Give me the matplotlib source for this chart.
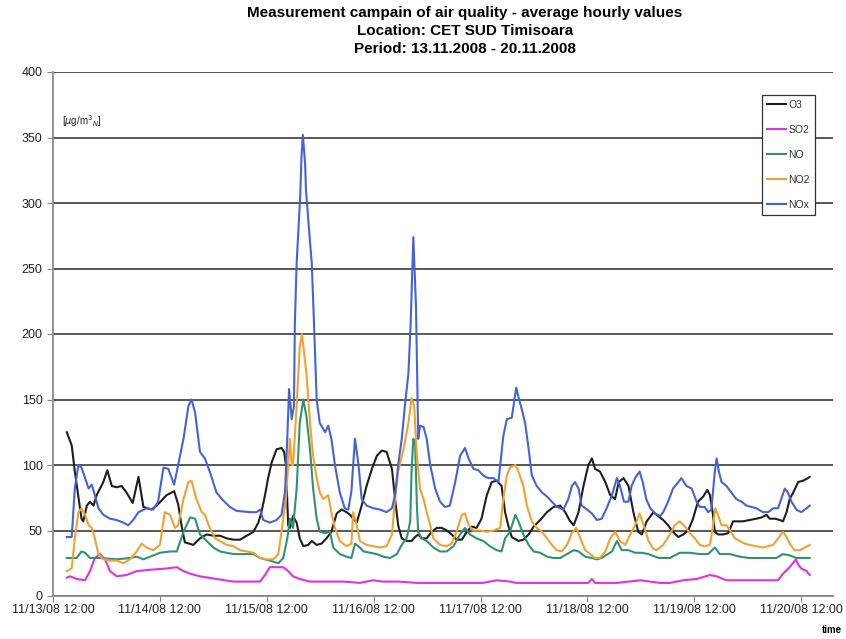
import numpy as np
import matplotlib
matplotlib.use('Agg')
import matplotlib.pyplot as plt

plt.rcParams['font.family'] = ['Liberation Sans', 'DejaVu Sans']

# hours since 11/13/08 12:00, value in ug/m3N
o3 = [(3.1, 125), (4.2, 115), (4.9, 95), (6.4, 59), (6.8, 57), (7.6, 69), (8.3, 72), (9.1, 69),
      (9.8, 77), (11.3, 87), (12.2, 96), (13.2, 84), (14.3, 83), (15.4, 84), (16.5, 79), (17.9, 71),
      (19.2, 91), (20.3, 68), (22.1, 66), (23.3, 69), (25.5, 77), (27.2, 80), (28.1, 70), (28.9, 53),
      (29.6, 41), (31.5, 39), (33.0, 44), (34.5, 47), (36.0, 46), (37.5, 46), (39.0, 44), (40.5, 43),
      (42.0, 43), (43.5, 46), (45.0, 49), (46.1, 56), (46.8, 64), (47.6, 77), (48.3, 90), (49.1, 102),
      (50.2, 112), (51.3, 113), (51.9, 110), (52.3, 100), (52.8, 54), (53.2, 52), (53.9, 61), (54.7, 56),
      (55.4, 44), (56.2, 38), (57.3, 39), (58.1, 42), (59.2, 39), (60.3, 40), (61.4, 44), (62.5, 49),
      (63.7, 63), (64.8, 66), (65.9, 64), (66.7, 62), (67.4, 59), (68.2, 56), (69.3, 69), (70.4, 84),
      (71.6, 97), (72.7, 107), (73.8, 111), (74.9, 110), (76.1, 97), (76.8, 74), (77.5, 54), (78.3, 44),
      (79.4, 42), (80.5, 42), (81.3, 45), (82.0, 47), (82.8, 44), (83.9, 44), (85.0, 49), (86.2, 52),
      (87.3, 52), (88.4, 50), (89.5, 47), (90.6, 43), (91.8, 43), (92.9, 49), (94.0, 53), (95.1, 52),
      (96.2, 59), (97.4, 77), (98.5, 87), (99.6, 88), (100.7, 84), (101.5, 64), (102.2, 54), (103.0, 45),
      (104.5, 42), (105.6, 43), (106.8, 47), (107.9, 53), (109.4, 58), (110.9, 64), (112.4, 68), (113.9, 69),
      (115.0, 64), (116.1, 57), (116.9, 54), (118.0, 64), (119.1, 84), (120.2, 100), (121.0, 105), (121.7, 97),
      (122.8, 95), (124.0, 87), (125.1, 77), (126.2, 74), (127.0, 87), (128.1, 90), (129.2, 84), (130.3, 64),
      (131.4, 49), (132.2, 47), (133.3, 57), (134.8, 64), (135.9, 61), (137.0, 58), (138.1, 54), (139.2, 49),
      (140.4, 45), (141.5, 47), (142.6, 50), (143.7, 59), (144.8, 72), (146.0, 76), (146.9, 81), (147.5, 77),
      (148.1, 64), (148.6, 49), (149.3, 47), (150.5, 47), (151.6, 48), (152.7, 57), (153.8, 57), (154.9, 57),
      (156.4, 58), (157.9, 59), (159.1, 60), (160.2, 62), (160.9, 59), (162.1, 59), (163.2, 58), (163.9, 57),
      (164.7, 64), (165.4, 74), (166.2, 79), (167.3, 87), (168.4, 88), (169.5, 90), (169.9, 91)]

so2 = [(3.1, 14), (3.8, 15), (5.3, 13), (7.2, 12), (8.3, 19), (9.4, 29), (10.5, 32), (11.7, 28),
       (12.8, 19), (14.3, 15), (16.5, 16), (18.8, 19), (21.8, 20), (25.5, 21), (27.8, 22), (29.3, 19),
       (30.8, 17), (33.0, 15), (36.7, 13), (40.5, 11), (44.2, 11), (46.5, 11), (47.6, 16), (48.7, 22),
       (50.2, 22), (51.7, 22), (52.8, 19), (53.9, 15), (55.4, 13), (57.7, 11), (61.4, 11), (65.2, 11),
       (68.9, 10), (71.9, 12), (74.0, 11), (77.5, 11), (81.7, 10), (89.1, 10), (96.6, 10), (99.6, 12),
       (102.6, 11), (104.0, 10), (112.0, 10), (120.2, 10), (121.0, 13), (121.7, 10), (126.6, 10),
       (131.9, 12), (136.3, 10), (138.5, 10), (141.5, 12), (144.5, 13), (147.5, 16), (149.0, 15),
       (151.2, 12), (154.9, 12), (158.7, 12), (162.8, 12), (163.9, 17), (165.4, 22), (166.8, 28),
       (167.3, 24), (168.0, 21), (169.2, 19), (169.9, 16)]

no = [(3.1, 29), (5.3, 29), (6.4, 34), (7.2, 33), (8.3, 29), (10.5, 29), (14.3, 28), (17.3, 29),
      (18.8, 30), (20.3, 28), (21.8, 30), (24.0, 33), (26.3, 34), (27.8, 34), (29.3, 49), (30.8, 60),
      (31.9, 59), (33.0, 47), (34.5, 42), (36.0, 37), (37.5, 34), (39.0, 33), (40.5, 32), (45.0, 32),
      (46.5, 29), (48.7, 27), (50.6, 25), (51.7, 29), (52.6, 44), (53.2, 59), (53.9, 52), (54.7, 82),
      (55.4, 132), (56.2, 150), (56.9, 137), (57.7, 112), (58.4, 82), (59.2, 59), (59.9, 49), (61.1, 48),
      (62.2, 49), (62.9, 37), (64.4, 32), (65.9, 30), (67.0, 29), (67.8, 40), (68.9, 37), (69.7, 34),
      (71.2, 33), (72.7, 32), (74.2, 30), (75.7, 29), (77.2, 32), (78.3, 39), (79.4, 44), (80.2, 57),
      (80.5, 95), (80.9, 120), (81.3, 117), (81.7, 69), (82.0, 49), (82.8, 44), (83.9, 42), (85.4, 37),
      (86.9, 34), (88.4, 34), (89.9, 38), (91.4, 47), (92.5, 52), (93.6, 47), (95.1, 44), (96.6, 42),
      (98.1, 38), (99.6, 35), (100.7, 34), (101.5, 44), (102.6, 49), (103.8, 62), (104.5, 57), (105.6, 47),
      (106.8, 39), (107.9, 34), (109.4, 33), (110.9, 30), (112.4, 29), (113.9, 29), (115.4, 32), (116.9, 35),
      (118.0, 34), (119.5, 30), (121.0, 29), (122.1, 28), (123.2, 29), (125.5, 34), (126.6, 42), (127.7, 35),
      (129.2, 35), (130.7, 33), (132.2, 33), (133.7, 32), (135.2, 30), (136.2, 29), (138.5, 29), (140.7, 33),
      (143.0, 33), (145.2, 32), (147.1, 32), (148.6, 37), (149.7, 32), (152.0, 32), (154.2, 30), (156.4, 29),
      (159.4, 29), (162.4, 29), (163.9, 32), (165.4, 31), (166.9, 29), (169.9, 29)]

no2 = [(3.1, 19), (4.2, 21), (4.9, 44), (5.7, 64), (6.4, 67), (7.2, 62), (8.0, 54), (8.7, 52),
       (9.4, 44), (10.2, 32), (11.3, 28), (12.8, 27), (14.3, 27), (15.8, 25), (17.3, 28), (18.8, 34),
       (19.9, 40), (21.0, 37), (22.5, 35), (24.0, 39), (25.1, 64), (26.3, 62), (27.4, 52), (28.1, 54),
       (29.3, 74), (30.4, 87), (31.1, 88), (32.2, 74), (33.4, 64), (34.1, 62), (35.2, 52), (36.4, 44),
       (37.5, 42), (39.0, 39), (40.5, 38), (42.0, 35), (43.5, 34), (45.0, 33), (46.5, 29), (48.0, 28),
       (49.5, 28), (50.6, 32), (51.3, 49), (51.9, 64), (52.3, 74), (52.7, 95), (53.2, 120), (53.6, 100),
       (53.9, 100), (54.7, 145), (55.4, 190), (55.9, 200), (56.9, 170), (57.7, 132), (58.4, 107), (59.2, 90),
       (59.9, 79), (60.7, 74), (61.8, 77), (62.5, 64), (63.3, 52), (64.4, 42), (65.9, 38), (67.0, 40),
       (67.4, 64), (68.2, 54), (68.9, 42), (70.4, 39), (71.9, 38), (73.4, 37), (74.9, 38), (76.1, 47),
       (76.8, 74), (77.5, 95), (78.7, 112), (79.8, 132), (80.5, 151), (81.1, 145), (81.7, 107), (82.4, 82),
       (83.2, 74), (83.9, 64), (84.7, 54), (85.4, 44), (86.9, 39), (88.4, 38), (89.5, 40), (90.6, 49),
       (91.8, 62), (92.5, 63), (93.3, 54), (94.4, 50), (95.9, 50), (97.4, 49), (98.9, 50), (100.4, 52),
       (101.1, 74), (101.9, 92), (102.6, 98), (103.8, 100), (104.5, 95), (105.6, 84), (106.4, 69),
       (107.5, 57), (108.6, 52), (109.8, 49), (110.9, 44), (112.0, 39), (113.1, 35), (114.2, 34),
       (115.4, 39), (116.5, 48), (117.5, 52), (118.4, 44), (119.5, 35), (120.6, 32), (121.7, 29),
       (122.8, 29), (124.0, 34), (125.1, 44), (126.2, 49), (127.3, 42), (128.5, 39), (129.6, 47),
       (130.7, 54), (131.7, 63), (132.6, 54), (133.7, 42), (134.8, 36), (135.5, 35), (137.0, 39),
       (138.5, 47), (139.6, 54), (140.7, 57), (141.9, 53), (143.0, 48), (144.1, 44), (145.2, 39),
       (146.3, 38), (147.5, 39), (148.2, 54), (148.7, 67), (149.3, 62), (150.1, 54), (151.2, 54),
       (152.0, 50), (153.1, 44), (154.2, 42), (155.3, 40), (156.4, 39), (157.9, 38), (159.4, 37),
       (160.6, 38), (161.7, 39), (162.8, 44), (163.9, 49), (164.7, 45), (165.4, 40), (166.5, 35),
       (167.7, 35), (168.8, 37), (169.9, 39)]

nox = [(3.1, 45), (4.2, 45), (4.9, 82), (5.7, 100), (6.4, 98), (7.2, 90), (8.0, 82), (8.7, 85),
       (9.4, 77), (10.2, 67), (11.3, 62), (12.8, 59), (14.3, 58), (15.8, 56), (16.9, 54), (18.0, 58),
       (19.2, 64), (21.0, 67), (22.5, 66), (23.6, 72), (24.8, 98), (25.9, 97), (27.2, 85), (28.1, 100),
       (29.3, 120), (30.4, 145), (31.1, 150), (31.9, 140), (33.0, 110), (34.1, 105), (35.2, 95),
       (36.7, 79), (38.2, 73), (39.7, 68), (41.2, 65), (44.2, 64), (45.7, 64), (46.5, 66), (47.2, 58),
       (48.7, 56), (50.2, 58), (51.3, 62), (52.1, 80), (52.6, 120), (53.0, 158), (53.6, 135), (54.1, 145),
       (54.3, 208), (54.7, 254), (55.5, 305), (55.8, 336), (56.1, 352), (56.6, 330), (56.8, 310),
       (57.5, 279), (58.1, 254), (58.6, 208), (59.2, 150), (59.9, 132), (61.1, 125), (61.8, 130),
       (62.5, 120), (63.3, 100), (64.4, 79), (65.5, 67), (66.3, 66), (67.0, 80), (67.8, 120), (68.6, 100),
       (69.3, 74), (70.4, 69), (71.9, 67), (73.4, 66), (74.9, 64), (76.1, 67), (76.8, 77), (77.5, 100),
       (78.3, 120), (79.0, 145), (79.8, 170), (80.3, 208), (80.9, 274), (81.5, 221), (82.0, 120),
       (82.4, 130), (83.2, 129), (83.9, 120), (84.7, 100), (85.8, 82), (86.9, 72), (88.0, 68), (89.1, 69),
       (90.3, 87), (91.4, 107), (92.5, 113), (93.3, 105), (94.4, 97), (95.5, 96), (96.6, 92), (97.7, 90),
       (98.9, 90), (100.0, 87), (101.1, 122), (101.9, 135), (103.0, 136), (104.0, 159), (104.5, 152),
       (105.3, 142), (106.0, 132), (106.8, 112), (107.5, 92), (108.6, 84), (109.8, 79), (110.9, 76),
       (112.0, 72), (113.1, 68), (114.6, 66), (115.7, 74), (116.5, 84), (117.2, 87), (118.0, 82),
       (118.7, 69), (119.9, 66), (121.0, 63), (122.1, 58), (123.2, 59), (124.3, 67), (125.5, 77),
       (126.6, 90), (127.3, 84), (128.2, 72), (129.2, 72), (129.9, 84), (130.7, 90), (131.7, 95),
       (132.4, 87), (133.2, 74), (134.1, 67), (135.2, 63), (136.3, 61), (137.0, 64), (138.1, 72),
       (139.2, 82), (140.4, 87), (141.1, 90), (142.2, 84), (143.4, 82), (144.5, 72), (145.2, 68),
       (146.3, 68), (147.1, 64), (147.8, 66), (148.6, 95), (149.0, 105), (149.5, 95), (150.1, 87),
       (151.2, 84), (152.3, 79), (153.4, 74), (154.6, 72), (155.7, 69), (156.8, 68), (157.9, 67),
       (159.4, 64), (160.6, 64), (161.7, 67), (162.8, 67), (163.5, 74), (164.3, 82), (165.0, 79),
       (165.8, 72), (166.9, 66), (168.0, 64), (169.2, 67), (169.9, 69)]

series_names = ['O3', 'SO2', 'NO', 'NO2', 'NOx']
series_colors = ['#1e1e1e', '#e030e0', '#2f9272', '#f2a12e', '#4563d8']
tick_hours = [0, 24, 48, 72, 96, 120, 144, 168]
tick_labels = ['11/13/08 12:00', '11/14/08 12:00', '11/15/08 12:00', '11/16/08 12:00',
               '11/17/08 12:00', '11/18/08 12:00', '11/19/08 12:00', '11/20/08 12:00']

W, H = 846, 639
fig = plt.figure(figsize=(W / 100, H / 100), dpi=100)
ax = fig.add_axes([53 / W, 1 - 596 / H, (833 - 53) / W, (596 - 72) / H])

for data, name, col in zip([o3, so2, no, no2, nox], series_names, series_colors):
    arr = np.array(data, dtype=float)
    ax.plot(arr[:, 0], arr[:, 1], color=col, lw=1.5, label=name)

ax.set_xlim(0, 780 / 4.454)
ax.set_ylim(0, 400)
ax.set_yticks(range(0, 401, 50))
ax.set_xticks(tick_hours)
ax.set_xticklabels(tick_labels)
ax.grid(axis='y', color='#4a4a4a', lw=1.3)
ax.set_axisbelow(True)
for s in ['top', 'right']:
    ax.spines[s].set_visible(False)
for s in ['left', 'bottom']:
    ax.spines[s].set_color('#8a8a8a')
    ax.spines[s].set_linewidth(1.3)
ax.tick_params(axis='both', direction='out', length=4, color='#8a8a8a',
               labelsize=9, labelcolor='#222222')
ax.tick_params(axis='x', pad=2)

ax.text(0.012, 0.906, r'[$\mu$g/m$^3$$_N$]', transform=ax.transAxes, fontsize=7,
        color='#222222', va='center')

leg = ax.legend(loc='upper left', bbox_to_anchor=(762 / W, 1 - 95 / H), bbox_transform=fig.transFigure,
                fancybox=False, edgecolor='#333333', framealpha=1, fontsize=7.5,
                handlelength=1.9, handletextpad=0.2, labelspacing=1.45, borderpad=0.45,
                borderaxespad=0)
leg.get_frame().set_linewidth(0.9)
for t in leg.get_texts():
    t.set_color('#333333')

fig.text(465 / W, 1 - 13 / H, 'Measurement campain of air quality - average hourly values',
         ha='center', va='center', fontsize=11, fontweight='bold')
fig.text(465 / W, 1 - 31 / H, 'Location: CET SUD Timisoara',
         ha='center', va='center', fontsize=11, fontweight='bold')
fig.text(465 / W, 1 - 49 / H, 'Period: 13.11.2008 - 20.11.2008',
         ha='center', va='center', fontsize=11, fontweight='bold')
fig.text(832 / W, 1 - 630 / H, 'time', ha='center', va='center', fontsize=7, fontweight='bold')

fig.savefig('out.png', dpi=100)
